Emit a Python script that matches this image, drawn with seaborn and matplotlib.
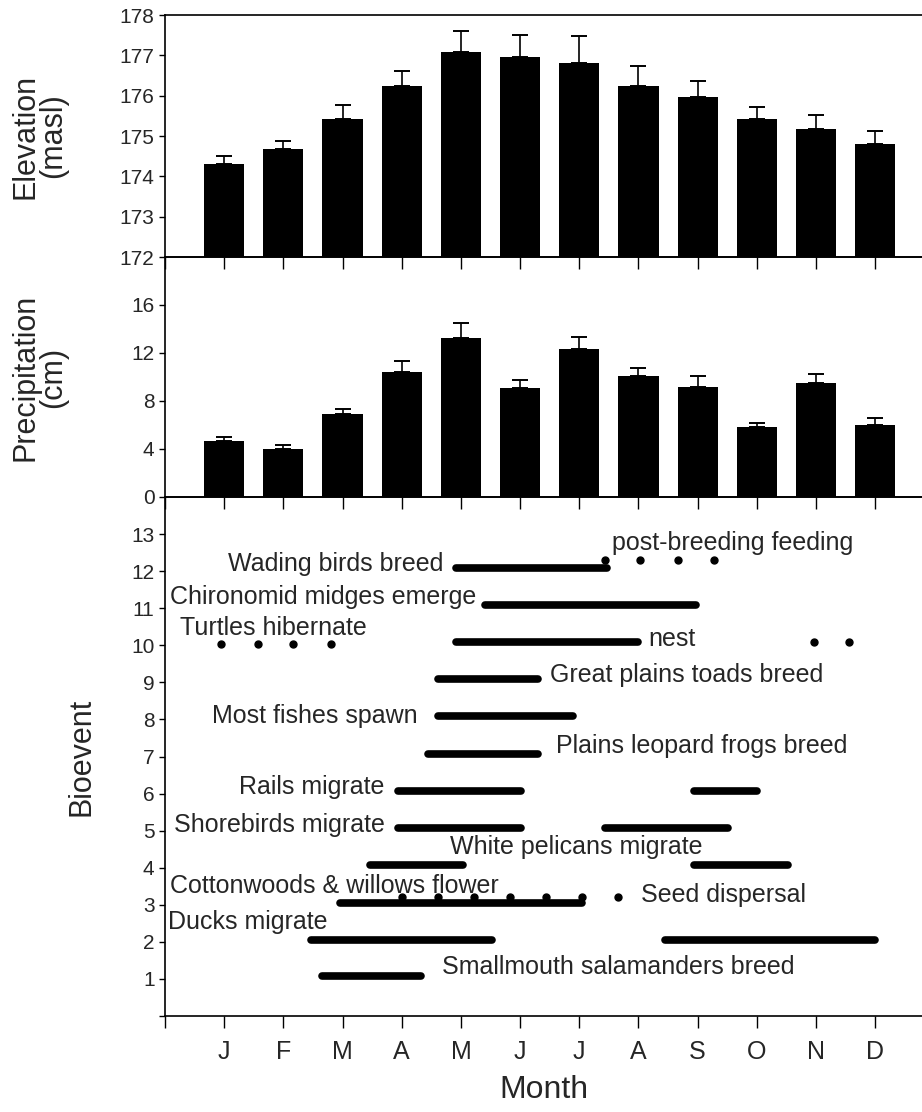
import numpy as np
import pandas as pd
import matplotlib
matplotlib.use("Agg")
import matplotlib.pyplot as plt
import seaborn as sns

# --- data ---
months = ["J", "F", "M", "A", "M", "J", "J", "A", "S", "O", "N", "D"]
month_num = list(range(1, 13))

elev_mean = [174.31, 174.67, 175.42, 176.23, 177.08, 176.95, 176.81, 176.23, 175.96, 175.43, 175.17, 174.80]
elev_err = [0.19, 0.20, 0.34, 0.37, 0.53, 0.56, 0.67, 0.51, 0.41, 0.28, 0.34, 0.32]

precip_mean = [4.69, 4.02, 6.90, 10.45, 13.27, 9.05, 12.35, 10.11, 9.16, 5.81, 9.47, 6.01]
precip_err = [0.34, 0.31, 0.45, 0.92, 1.26, 0.73, 1.00, 0.62, 0.95, 0.36, 0.75, 0.58]

# bioevent periods (month scale, 1 = Jan)
seg_y = [12.08, 11.1, 10.1, 9.09, 8.09, 7.08, 6.08, 6.08, 5.07, 5.07, 4.07, 4.07, 3.06, 2.06, 2.06, 1.08]
seg_start = [4.91, 5.41, 4.91, 4.62, 4.62, 4.44, 3.94, 8.93, 3.94, 7.43, 3.46, 8.93, 2.95, 2.46, 8.44, 2.66]
seg_end = [7.47, 8.98, 7.99, 6.30, 6.90, 6.30, 6.01, 10.00, 6.02, 9.51, 5.03, 10.52, 7.05, 5.53, 12.00, 4.33]

dot_x = [7.44, 8.03, 8.66, 9.28, 0.94, 1.57, 2.17, 2.80, 10.96, 11.56, 4.00, 4.62, 5.22, 5.83, 6.44, 7.05, 7.66]
dot_y = [12.3] * 4 + [10.04] * 4 + [10.1] * 2 + [3.21] * 7

labels = ["Wading birds breed", "post-breeding feeding", "Chironomid midges emerge",
          "Turtles hibernate", "nest", "Great plains toads breed", "Most fishes spawn",
          "Plains leopard frogs breed", "Rails migrate", "Shorebirds migrate",
          "White pelicans migrate", "Cottonwoods & willows flower", "Seed dispersal",
          "Ducks migrate", "Smallmouth salamanders breed"]
label_x = [4.70, 7.55, 5.26, 0.25, 8.17, 6.51, 4.27, 6.60, 3.71, 3.71, 4.82, 0.09, 8.05, 0.05, 4.68]
label_y = [12.2, 12.76, 11.3, 10.47, 10.18, 9.2, 8.1, 7.29, 6.18, 5.15, 4.56, 3.52, 3.26, 2.53, 1.33]
label_ha = ["right", "left", "right", "left", "left", "left", "right", "left",
            "right", "right", "left", "left", "left", "left", "left"]

sns.set_style("ticks")
plt.rcParams["font.family"] = ["Liberation Sans", "DejaVu Sans"]
plt.rcParams["xtick.major.size"] = 8.5
plt.rcParams["ytick.major.size"] = 4

fig = plt.figure(figsize=(9.22, 11.12), dpi=100)
L, W = 165 / 922, 1 - 165 / 922
H = 1112
ax1 = fig.add_axes([L, 1 - 257 / H, W, 242 / H])
ax2 = fig.add_axes([L, 1 - 497 / H, W, 240 / H])
ax3 = fig.add_axes([L, 1 - 1016 / H, W, 519 / H])

elev = pd.DataFrame({"month": month_num, "mean": elev_mean, "err": elev_err})
prec = pd.DataFrame({"month": month_num, "mean": precip_mean, "err": precip_err})
bar_kw = dict(native_scale=True, color="black", width=0.68, errorbar=None,
              edgecolor="black", linewidth=0)
err_kw = dict(fmt="none", ecolor="black", elinewidth=1.2, capsize=6, capthick=1.4)

# elevation: bars start at 172
sns.barplot(x=elev["month"], y=elev["mean"] - 172, bottom=172, ax=ax1, **bar_kw)
ax1.errorbar(elev["month"], elev["mean"], yerr=[np.zeros(12), elev["err"]], **err_kw)
ax1.set_ylim(172, 178)
ax1.set_yticks(range(172, 179))

sns.barplot(data=prec, x="month", y="mean", ax=ax2, **bar_kw)
ax2.errorbar(prec["month"], prec["mean"], yerr=[np.zeros(12), prec["err"]], **err_kw)
ax2.set_ylim(0, 20)
ax2.set_yticks([0, 4, 8, 12, 16])

# bioevents
for y, x0, x1 in zip(seg_y, seg_start, seg_end):
    ax3.plot([x0, x1], [y, y], color="black", lw=5.5, solid_capstyle="round")
ax3.plot(dot_x, dot_y, "o", color="black", ms=5)
for t, x, y, ha in zip(labels, label_x, label_y, label_ha):
    ax3.text(x, y, t, ha=ha, va="center", fontsize=18)
ax3.set_ylim(0, 14)
ax3.set_yticks(range(0, 14))
ax3.set_yticklabels([""] + [str(i) for i in range(1, 14)])

for ax in (ax1, ax2, ax3):
    ax.set_xlim(0, 12.79)
    ax.set_xticks(range(0, 13))
    ax.set_xticklabels([])
    ax.tick_params(axis="both", labelsize=15, width=1, color="black")
    ax.set_xlabel("")
    for s in ax.spines.values():
        s.set_linewidth(1.2)
        s.set_color("black")
    ax.spines["right"].set_visible(False)
    ax.patch.set_alpha(0)

ax3.set_xticklabels([""] + months, fontsize=18)
ax3.tick_params(axis="x", pad=9)
ax3.set_xlabel("Month", fontsize=23)
ax3.xaxis.set_label_coords(0.5, -0.113)

ax1.set_ylabel("Elevation\n(masl)", fontsize=22, linespacing=0.9)
ax1.yaxis.set_label_coords(-0.128, 0.5)
ax2.set_ylabel("Precipitation\n(cm)", fontsize=22, linespacing=0.9)
ax2.yaxis.set_label_coords(-0.128, 0.5)
ax3.set_ylabel("Bioevent", fontsize=22)
ax3.yaxis.set_label_coords(-0.09, 0.5)

fig.savefig("out.png", dpi=100)
